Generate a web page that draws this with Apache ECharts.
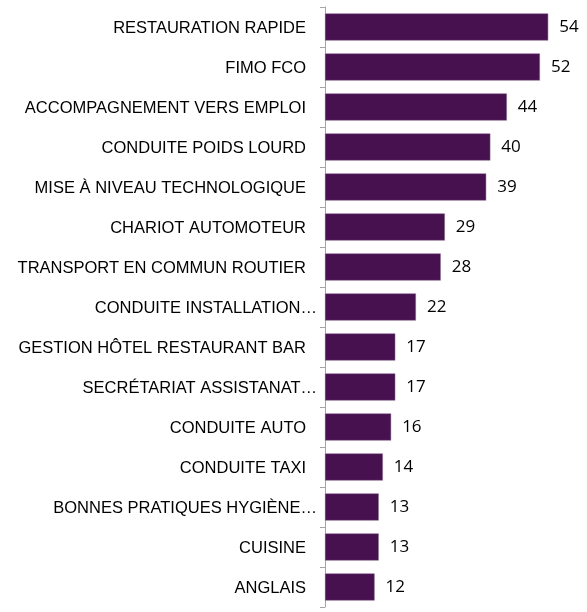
<!DOCTYPE html>
<html>
<head>
<meta charset="utf-8">
<script src="https://cdn.jsdelivr.net/npm/echarts@6/dist/echarts.min.js"></script>
<style>
  html, body { margin: 0; padding: 0; background: #fff; }
  #chart { width: 587px; height: 612px; }
</style>
</head>
<body>
<div id="chart"></div>
<script>
var categories = [
    'RESTAURATION RAPIDE',
    'FIMO FCO',
    'ACCOMPAGNEMENT VERS EMPLOI',
    'CONDUITE POIDS LOURD',
    'MISE À NIVEAU TECHNOLOGIQUE',
    'CHARIOT AUTOMOTEUR',
    'TRANSPORT EN COMMUN ROUTIER',
    'CONDUITE INSTALLATION…',
    'GESTION HÔTEL RESTAURANT BAR',
    'SECRÉTARIAT ASSISTANAT…',
    'CONDUITE AUTO',
    'CONDUITE TAXI',
    'BONNES PRATIQUES HYGIÈNE…',
    'CUISINE',
    'ANGLAIS'
];
var values = [54, 52, 44, 40, 39, 29, 28, 22, 17, 17, 16, 14, 13, 13, 12];

var chart = echarts.init(document.getElementById('chart'));
chart.setOption({
    animation: false,
    grid: {
        left: 325,
        right: 14,
        top: 7,
        bottom: 5,
        containLabel: false
    },
    xAxis: {
        type: 'value',
        min: 0,
        max: 60,
        show: false
    },
    yAxis: {
        type: 'category',
        inverse: true,
        data: categories,
        axisLine: { lineStyle: { color: '#a6a6a6', width: 1 } },
        axisTick: { show: true, length: 5, lineStyle: { color: '#a6a6a6' } },
        axisLabel: {
            margin: 8,
            color: '#000',
            fontFamily: 'Liberation Sans',
            fontSize: 16.5,
            padding: [2, 0, 0, 0],
            formatter: function (v) {
                // excel keeps a little gap after full labels
                return v.indexOf('…') >= 0 ? v : '{n|' + v + '}';
            },
            rich: {
                n: { fontFamily: 'Liberation Sans', fontSize: 16.5, color: '#000', padding: [0, 11, 0, 0] }
            }
        }
    },
    series: [{
        type: 'bar',
        data: values,
        barCategoryGap: '32%',
        itemStyle: {
            color: '#471150',
            borderColor: '#8a6a90',
            borderWidth: 0.5
        },
        label: {
            show: true,
            position: 'right',
            distance: 11,
            color: '#000',
            fontFamily: 'Open Sans',
            fontSize: 17
        }
    }]
});
</script>
</body>
</html>
